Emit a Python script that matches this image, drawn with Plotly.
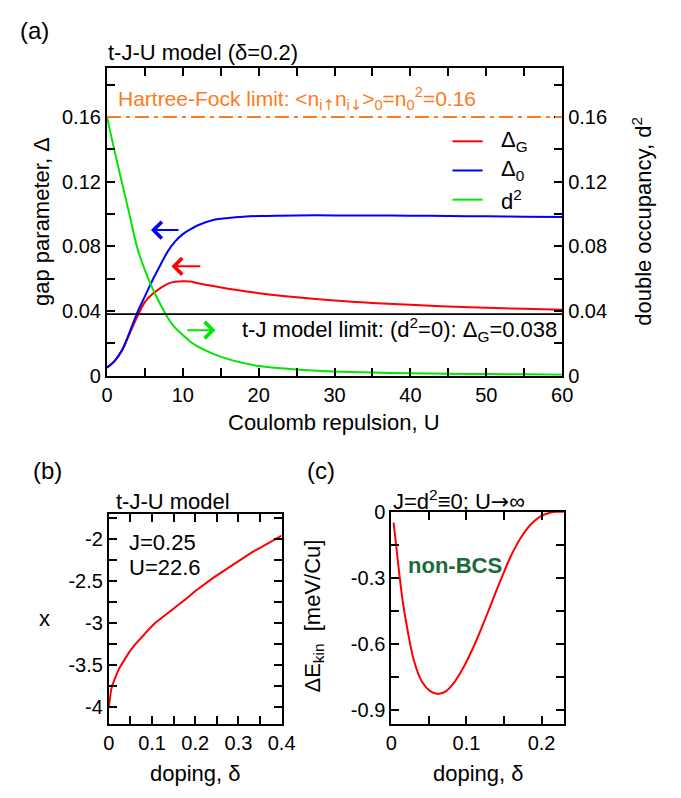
import plotly.graph_objects as go

# ---------------- data ----------------
# (a) t-J-U model at delta = 0.2
U = [0, 1, 2, 3, 4, 5, 6, 7, 8, 9, 10, 11, 12, 14, 16, 18, 20, 25, 30, 35, 40, 45, 50, 55, 60]
gap_G = [0.005, 0.009, 0.0155, 0.026, 0.0365, 0.0455, 0.0505, 0.054, 0.0568, 0.058, 0.0584,
         0.0582, 0.0572, 0.0554, 0.0538, 0.0523, 0.051, 0.0485, 0.0465, 0.045, 0.0438,
         0.0428, 0.042, 0.0413, 0.0407]
gap_0 = [0.005, 0.009, 0.016, 0.027, 0.039, 0.049, 0.059, 0.068, 0.0767, 0.083, 0.0875,
         0.0905, 0.093, 0.0962, 0.0975, 0.0983, 0.0987, 0.0991, 0.0991, 0.099, 0.0989,
         0.0987, 0.0985, 0.0983, 0.0981]
d2 = [0.16, 0.139, 0.119, 0.099, 0.079, 0.0652, 0.054, 0.0445, 0.036, 0.0295, 0.0252,
      0.021, 0.018, 0.0135, 0.0102, 0.0078, 0.006, 0.0038, 0.0026, 0.0019, 0.0015,
      0.0012, 0.001, 0.0008, 0.0006]
HF_LIMIT = 0.16
TJ_LIMIT = 0.038

# (b) x versus doping, J=0.25, U=22.6
delta_b = [0, 0.001, 0.002, 0.0035, 0.005, 0.008, 0.0128, 0.018, 0.024, 0.035, 0.0466,
           0.06, 0.0767, 0.09, 0.107, 0.125, 0.144, 0.163, 0.182, 0.2, 0.22, 0.24, 0.257,
           0.276, 0.295, 0.313, 0.331, 0.35, 0.37, 0.385, 0.4]
x_b = [-4.0, -3.94, -3.89, -3.84, -3.80, -3.74, -3.67, -3.61, -3.54, -3.44, -3.35,
       -3.26, -3.16, -3.09, -3.0, -2.93, -2.85, -2.775, -2.70, -2.62, -2.54, -2.47, -2.41,
       -2.345, -2.28, -2.22, -2.16, -2.105, -2.05, -2.005, -1.96]

# (c) kinetic energy gain, J = d^2 = 0, U -> infinity
delta_c = [0.003, 0.0065, 0.0108, 0.0151, 0.0216, 0.0302, 0.041, 0.0517, 0.0625, 0.073,
           0.084, 0.0948, 0.1078, 0.1207, 0.1336, 0.1466, 0.1595, 0.1724, 0.1853, 0.198,
           0.211, 0.22, 0.23]
dE_kin = [-0.049, -0.155, -0.288, -0.406, -0.539, -0.679, -0.775, -0.816, -0.829, -0.816,
          -0.775, -0.716, -0.627, -0.524, -0.413, -0.302, -0.199, -0.118, -0.059, -0.022,
          -0.004, 0.0, 0.0]

# tick labels
ticks_a = [0, 0.04, 0.08, 0.12, 0.16]
ticktext_a = ["0", "0.04", "0.08", "0.12", "0.16"]
ticks_a_x = [0, 10, 20, 30, 40, 50, 60]
ticks_b_y = [-4, -3.5, -3, -2.5, -2]
ticktext_b_y = ["-4", "-3.5", "-3", "-2.5", "-2"]
ticks_b_x = [0, 0.1, 0.2, 0.3, 0.4]
ticktext_b_x = ["0", "0.1", "0.2", "0.3", "0.4"]
ticks_c_y = [0, -0.3, -0.6, -0.9]
ticktext_c_y = ["0", "-0.3", "-0.6", "-0.9"]
ticks_c_x = [0, 0.1, 0.2]
ticktext_c_x = ["0", "0.1", "0.2"]

RED = "#ff0000"
BLUE = "#0000ff"
GREEN = "#00e600"
ORANGE = "#ff7a1a"
DARKGREEN = "#1b6b3a"
FONT = "Liberation Sans, Arial, Helvetica, sans-serif"
SYM = "DejaVu Sans"
FS = 22
TICK_FS = 20

W, H = 681, 798


def px(x):
    return x / W


def py(y):
    return 1 - y / H


def sym(ch):
    return f'<span style="font-family:{SYM}">{ch}</span>'


fig = go.Figure()

line_kw = dict(width=2)
fig.add_trace(go.Scatter(x=U, y=gap_G, mode="lines", line=dict(color=RED, shape="spline", **line_kw),
                         xaxis="x", yaxis="y", showlegend=False))
fig.add_trace(go.Scatter(x=U, y=gap_0, mode="lines", line=dict(color=BLUE, shape="spline", **line_kw),
                         xaxis="x", yaxis="y", showlegend=False))
fig.add_trace(go.Scatter(x=U, y=d2, mode="lines", line=dict(color=GREEN, shape="spline", **line_kw),
                         xaxis="x", yaxis="y2", showlegend=False))
fig.add_trace(go.Scatter(x=delta_b, y=x_b, mode="lines",
                         line=dict(color=RED, shape="linear", **line_kw),
                         xaxis="x3", yaxis="y3", showlegend=False))
fig.add_trace(go.Scatter(x=delta_c, y=dE_kin, mode="lines", line=dict(color=RED, shape="spline", **line_kw),
                         xaxis="x4", yaxis="y4", showlegend=False))

axis_common = dict(showline=True, linecolor="black", linewidth=2, ticks="inside", ticklen=8,
                   tickwidth=2, tickcolor="black", showgrid=False, zeroline=False,
                   tickfont=dict(family=FONT, size=TICK_FS, color="black"))
minor_common = dict(ticks="inside", ticklen=8, tickwidth=2, tickcolor="black", showgrid=False)

fig.update_layout(
    width=W, height=H,
    margin=dict(l=0, r=0, t=0, b=0),
    paper_bgcolor="white", plot_bgcolor="white",
    font=dict(family=FONT, size=FS, color="black"),
    xaxis=dict(domain=[px(104), px(573)], range=[0, 60], anchor="y",
               tickvals=ticks_a_x, mirror="allticks",
               minor=dict(dtick=5, **minor_common), **axis_common),
    yaxis=dict(domain=[py(375), py(59)], range=[0, 0.19], anchor="x",
               tickvals=ticks_a, ticktext=ticktext_a, mirror=True,
               minor=dict(dtick=0.02, **minor_common), **axis_common),
    yaxis2=dict(range=[0, 0.19], overlaying="y", side="right", anchor="x",
                tickvals=ticks_a, ticktext=ticktext_a,
                minor=dict(dtick=0.02, **minor_common), **axis_common),
    xaxis3=dict(domain=[px(106), px(284)], range=[0, 0.4], anchor="y3",
                tickvals=ticks_b_x, ticktext=ticktext_b_x, mirror="allticks",
                minor=dict(dtick=0.05, **minor_common), **axis_common),
    yaxis3=dict(domain=[py(733), py(517)], range=[-4.2, -1.7], anchor="x3",
                tickvals=ticks_b_y, ticktext=ticktext_b_y, mirror="allticks",
                minor=dict(dtick=0.25, **minor_common), **axis_common),
    xaxis4=dict(domain=[px(397), px(575)], range=[0, 0.23], anchor="y4",
                tickvals=ticks_c_x, ticktext=ticktext_c_x, mirror="allticks",
                minor=dict(dtick=0.05, **minor_common), **axis_common),
    yaxis4=dict(domain=[py(733), py(515)], range=[-0.965, 0], anchor="x4",
                tickvals=ticks_c_y, ticktext=ticktext_c_y, mirror="allticks",
                minor=dict(dtick=0.15, tick0=0, **minor_common), **axis_common),
)

# reference limits in (a)
fig.add_shape(type="line", xref="x domain", yref="y", x0=0, x1=1, y0=HF_LIMIT, y1=HF_LIMIT,
              line=dict(color=ORANGE, width=2, dash="14px,5px,4px,5px"))
fig.add_shape(type="line", xref="x domain", yref="y", x0=0, x1=1, y0=TJ_LIMIT, y1=TJ_LIMIT,
              line=dict(color="black", width=1.8))

# legend of (a)
legend_rows = [("Δ<sub>G</sub>", RED, 134), ("Δ<sub>0</sub>", BLUE, 164), ("d<sup>2</sup>", GREEN, 194)]
for label, col, yy in legend_rows:
    fig.add_shape(type="line", xref="paper", yref="paper", x0=px(460), x1=px(491),
                  y0=py(yy), y1=py(yy), line=dict(color=col, width=2))
    fig.add_annotation(xref="paper", yref="paper", x=px(508), y=py(yy), text=label,
                       showarrow=False, xanchor="left", yanchor="middle",
                       font=dict(family=FONT, size=FS, color="black"))

# arrows pointing at the relevant axis
arrows = [(5.8, 9.63, 0.090, BLUE), (8.5, 12.5, 0.0676, RED), (14.3, 10.4, 0.0281, GREEN)]
for head, tail, yv, col in arrows:
    fig.add_annotation(xref="x", yref="y", axref="x", ayref="y", x=head, y=yv, ax=tail, ay=yv,
                       text="", showarrow=True, arrowhead=4, arrowsize=1.6, arrowwidth=2,
                       arrowcolor=col, standoff=0, startstandoff=0)


def text(x, y, s, size=FS, color="black", xanchor="left", angle=0, bold=False):
    fig.add_annotation(xref="paper", yref="paper", x=px(x), y=py(y),
                       text=f"<b>{s}</b>" if bold else s, showarrow=False,
                       xanchor=xanchor, yanchor="middle", textangle=angle,
                       font=dict(family=FONT, size=size, color=color))


# panel (a) text
text(12, 20, "(a)", size=24)
text(103, 43, "t-J-U model (δ=0.2)")
text(36, 216, "gap parameter, Δ", xanchor="center", angle=-90)
text(655, 216, "double occupancy, d<sup>2</sup>", xanchor="center", angle=-90)
text(338, 423, "Coulomb repulsion, U", xanchor="center")
text(113, 90, "Hartree-Fock limit: &lt;n<sub>i" + sym("↑") + "</sub>n<sub>i" + sym("↓")
     + "</sub>&gt;<sub>0</sub>=n<sub>0</sub><sup>2</sup>=0.16", size=21, color=ORANGE)
text(241, 328, "t-J model limit: (d<sup>2</sup>=0): Δ<sub>G</sub>=0.038")

# panel (b) text
text(26, 473, "(b)", size=24)
text(111, 504, "t-J-U model")
text(125, 547, "J=0.25")
text(125, 572, "U=22.6")
text(40, 625, "x", xanchor="center")
text(195, 784, "doping, δ", xanchor="center")

# panel (c) text
text(308, 473, "(c)", size=24)
text(397, 503, "J=d<sup>2</sup>≡0; U" + sym("→") + "∞")
text(317, 622, "ΔE<sub>kin</sub>  [meV/Cu]", xanchor="center", angle=-90)
text(487, 784, "doping, δ", xanchor="center")
text(463, 570, "non-BCS", size=22, color=DARKGREEN, xanchor="center", bold=True)

fig.write_html("out.html")
